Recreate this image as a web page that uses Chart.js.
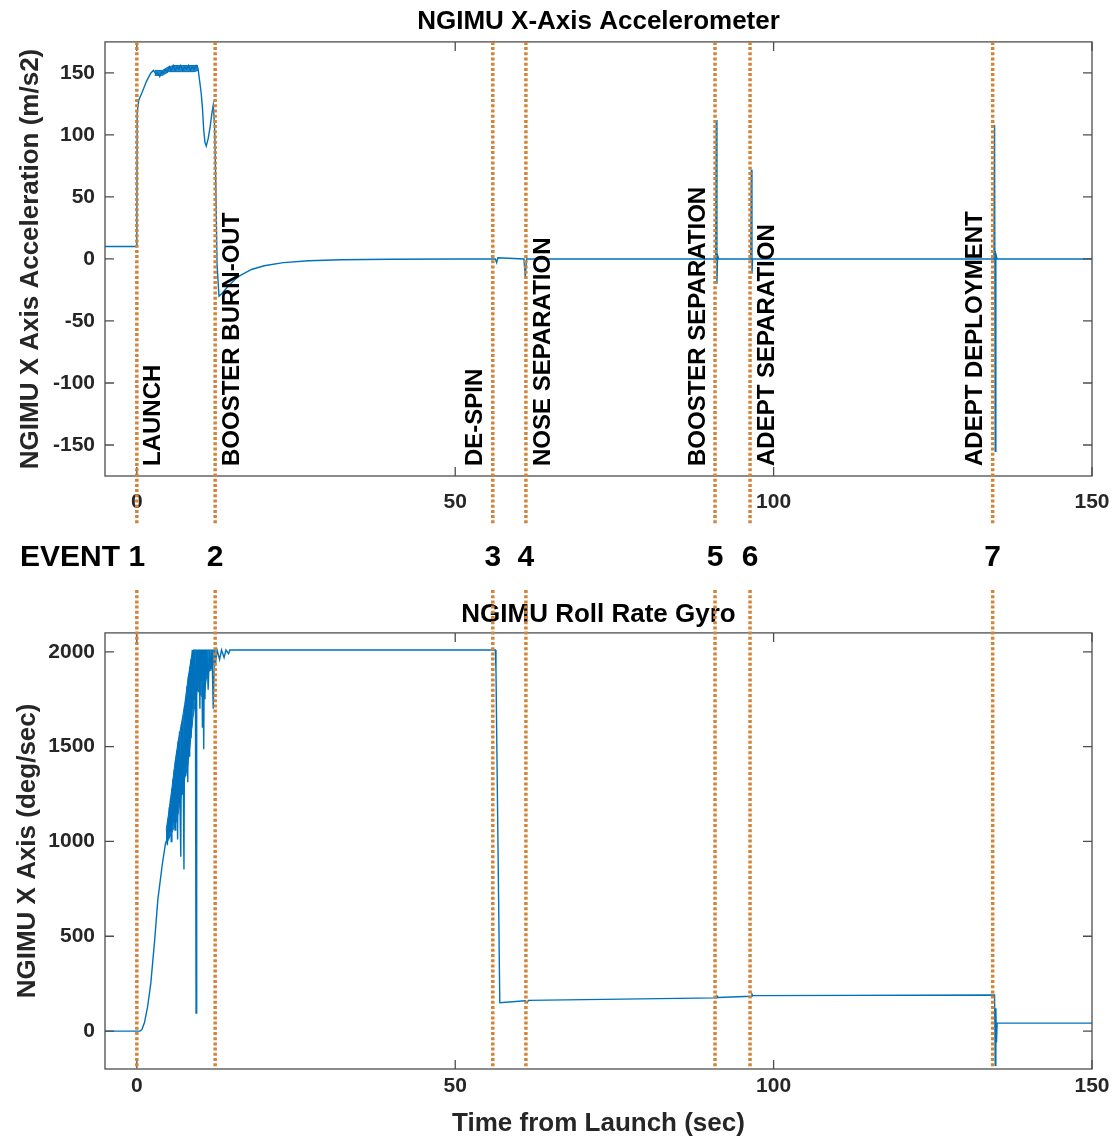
<!DOCTYPE html>
<html>
<head>
<meta charset="utf-8">
<script src="https://cdn.jsdelivr.net/npm/chart.js@4.4.1/dist/chart.umd.min.js"></script>
<style>
  body { margin: 0; background: #fff; }
  #wrap { position: relative; width: 1112px; height: 1140px; }
  canvas { position: absolute; left: 0; }
  #accel { top: 0; }
  #gyro { top: 590px; }
</style>
</head>
<body>
<div id="wrap">
  <canvas id="accel" width="1112" height="590"></canvas>
  <canvas id="gyro" width="1112" height="550"></canvas>
</div>
<script>
// events (sec from launch)
const eventTimes = [0, 12.3, 55.9, 61.1, 90.8, 96.3, 134.4];
const eventNumbers = ["1", "2", "3", "4", "5", "6", "7"];
const eventNames = ["LAUNCH", "BOOSTER BURN-OUT", "DE-SPIN", "NOSE SEPARATION",
  "BOOSTER SEPARATION", "ADEPT SEPARATION", "ADEPT DEPLOYMENT"];

const timeTicks = [0, 50, 100, 150];
const accelTicks = [-150, -100, -50, 0, 50, 100, 150];
const gyroTicks = [0, 500, 1000, 1500, 2000];

// accelerometer trace
const accelTime = [
  -5, 0, 0.05, 0.3, 0.8, 1.5, 2.2, 2.6, 3.0, 3.3,
  3.6, 3.9, 4.2, 4.5, 4.8, 5.1, 5.4, 5.7, 6.0, 6.3,
  6.6, 6.9, 7.2, 7.5, 7.8, 8.1, 8.4, 8.7, 9.0, 9.3,
  9.6, 9.8, 10.1, 10.3, 10.5, 10.7, 10.9, 11.2, 11.5, 11.8,
  12.0, 12.2, 12.4, 12.6, 12.9, 13.5, 14.5, 16, 18, 20,
  23, 27, 32, 40, 50, 56.3, 56.5, 56.7, 60.8, 61.0,
  61.2, 90.9, 91.0, 91.1, 91.2, 91.4, 96.4, 96.5, 96.6, 96.7,
  134.6, 134.7, 134.8, 134.9, 135.1, 150
];
const accelValue = [
  10, 10, 118, 128, 134, 143, 150, 152, 149, 150,
  147, 151, 150, 153, 151, 155, 152, 156, 152, 155,
  153, 156, 152, 155, 153, 156, 152, 155, 153, 156,
  154, 146, 134, 122, 104, 94, 91, 97, 106, 118,
  124, 108, 60, -5, -30, -27, -21, -14, -8.5, -5.5,
  -3, -1.5, -0.7, -0.2, 0, 0, -3, 1, 0, -15,
  0, 0, 112, -20, 3, 0, 0, 72, -12, 0,
  0, 108, -155, 4, 0, 0
];
// noisy band during boost (upper / lower envelope)
const accelBandTime = [2.8, 4.0, 5.0, 6.0, 7.0, 8.0, 9.0, 9.6];
const accelBandUpper = [152, 152, 155, 156, 156, 156, 156, 156];
const accelBandLower = [148, 148, 151, 151, 151, 151, 151, 152];

// roll rate gyro trace
const gyroTime = [
  -5, 0.5, 0.8, 1.2, 1.7, 2.2, 2.8, 3.3, 4.0, 4.5,
  4.6, 4.7, 4.8, 4.9, 5.0, 5.1, 5.2, 5.3, 5.4, 5.5,
  5.6, 5.7, 5.8, 5.9, 6.0, 6.1, 6.2, 6.3, 6.4, 6.5,
  6.6, 6.7, 6.8, 6.9, 7.0, 7.1, 7.2, 7.3, 7.4, 7.5,
  7.6, 7.7, 7.8, 7.9, 8.0, 8.1, 8.2, 8.3, 8.4, 8.5,
  8.6, 8.7, 8.8, 8.9, 9.0, 9.1, 9.2, 9.3, 9.4, 9.5,
  9.6, 9.7, 9.8, 9.9, 10.0, 10.1, 10.2, 10.3, 10.4, 10.5,
  10.6, 10.7, 10.8, 10.9, 11.0, 11.2, 11.4, 11.6, 11.8, 12.0,
  12.2, 12.4, 12.6, 13.0, 13.3, 13.7, 14.0, 14.4, 14.6, 56.3,
  56.4, 57.0, 61.0, 61.3, 61.5, 91.0, 91.1, 91.3, 96.5, 96.6,
  96.7, 134.7, 134.8, 134.9, 135.0, 135.1, 150
];
const gyroValue = [
  0, 0, 8, 45, 130, 254, 480, 693, 880, 990,
  1000, 1060, 980, 1120, 1020, 1180, 1050, 1230, 1000, 1280,
  1080, 1330, 1100, 1380, 1060, 1430, 1150, 1480, 1010, 1530,
  1200, 1580, 1150, 920, 1620, 1250, 1660, 1300, 852, 1720,
  1350, 1760, 1400, 1820, 1312, 1870, 1450, 1920, 1550, 1960,
  1600, 2010, 1700, 2010, 1750, 2010, 1850, 95, 2010, 1800,
  2010, 1900, 2010, 1700, 2010, 1850, 2010, 1600, 2010, 1487,
  2010, 1750, 2010, 1880, 2010, 1800, 2010, 1900, 2010, 1700,
  2010, 1950, 2010, 1960, 2010, 1970, 2010, 1990, 2010, 2010,
  1900, 150, 160, 150, 162, 175, 185, 177, 184, 195,
  187, 190, -180, 120, -60, 42, 42
];
// dense noise band while spinning up (upper / lower envelope)
const gyroBandTime = [4.6, 5.0, 5.5, 6.0, 6.5, 7.0, 7.5, 8.0, 8.5, 8.8, 9.5, 10.5, 11.0, 12.4];
const gyroBandUpper = [1060, 1150, 1280, 1420, 1530, 1620, 1720, 1850, 1960, 2010, 2010, 2010, 2010, 2010];
const gyroBandLower = [990, 1010, 1050, 1080, 1150, 1250, 1330, 1400, 1550, 1650, 1800, 1750, 1880, 1950];

const FONT = "'Liberation Sans', Arial, sans-serif";
const LINE_BLUE = "rgb(0,114,189)";
const BAND_BLUE = "rgba(0,114,189,0.85)";
const EVENT_ORANGE = "rgb(210,132,58)";
const AXIS_GRAY = "#4d4d4d";
const labelSide = [1, 1, -1, 1, -1, 1, -1];

function toPoints(xs, ys) {
  if (xs.length !== ys.length) console.error("length mismatch", xs.length, ys.length);
  return xs.map((x, i) => ({ x, y: ys[i] }));
}

function drawDotted(ctx, x, y0, y1) {
  ctx.save();
  ctx.strokeStyle = EVENT_ORANGE;
  ctx.lineWidth = 3.5;
  ctx.setLineDash([3, 2.2]);
  ctx.beginPath();
  ctx.moveTo(x, y0);
  ctx.lineTo(x, y1);
  ctx.stroke();
  ctx.restore();
}

// box with inward ticks, MATLAB style
const boxPlugin = {
  id: "box",
  afterDatasetsDraw(chart, args, opts) {
    const { ctx, chartArea: a, scales } = chart;
    ctx.save();
    ctx.strokeStyle = AXIS_GRAY;
    ctx.lineWidth = 1.3;
    ctx.strokeRect(a.left, a.top, a.right - a.left, a.bottom - a.top);
    ctx.beginPath();
    opts.xTicks.forEach((v) => {
      const px = scales.x.getPixelForValue(v);
      ctx.moveTo(px, a.bottom); ctx.lineTo(px, a.bottom - 9);
      ctx.moveTo(px, a.top); ctx.lineTo(px, a.top + 9);
    });
    opts.yTicks.forEach((v) => {
      const py = scales.y.getPixelForValue(v);
      ctx.moveTo(a.left, py); ctx.lineTo(a.left + 9, py);
      ctx.moveTo(a.right, py); ctx.lineTo(a.right - 9, py);
    });
    ctx.stroke();
    ctx.restore();
  }
};

const eventPlugin = {
  id: "events",
  afterDraw(chart, args, opts) {
    const { ctx, chartArea: a, scales } = chart;
    eventTimes.forEach((t) => {
      const px = scales.x.getPixelForValue(t);
      if (opts.top) {
        drawDotted(ctx, px, a.top, 525);
      } else {
        drawDotted(ctx, px, 0, a.bottom);
      }
    });
    if (!opts.top) return;
    ctx.save();
    ctx.fillStyle = "#000";
    ctx.font = "bold 24px " + FONT;
    ctx.textAlign = "left";
    ctx.textBaseline = "middle";
    eventTimes.forEach((t, i) => {
      const px = scales.x.getPixelForValue(t) + labelSide[i] * 17;
      ctx.save();
      ctx.translate(px, a.bottom - 10);
      ctx.rotate(-Math.PI / 2);
      ctx.fillText(eventNames[i], 0, 0);
      ctx.restore();
    });
    ctx.font = "bold 30px " + FONT;
    ctx.fillText("EVENT", 20, 558);
    ctx.textAlign = "center";
    eventTimes.forEach((t, i) => {
      ctx.fillText(eventNumbers[i], scales.x.getPixelForValue(t), 558);
    });
    ctx.restore();
  }
};

function makeChart(id, cfg) {
  const lineStyle = { borderColor: LINE_BLUE, borderWidth: 1.4, pointRadius: 0, tension: 0 };
  return new Chart(document.getElementById(id), {
    type: "line",
    data: {
      datasets: [
        { ...lineStyle, borderWidth: 1, data: toPoints(cfg.bandX, cfg.bandHi), fill: false },
        { ...lineStyle, borderWidth: 1, data: toPoints(cfg.bandX, cfg.bandLo), fill: "-1", backgroundColor: BAND_BLUE },
        { ...lineStyle, data: toPoints(cfg.xs, cfg.ys), fill: false }
      ]
    },
    options: {
      responsive: false,
      animation: false,
      events: [],
      layout: { padding: { left: 0, right: 20, top: 0, bottom: 0 } },
      plugins: {
        legend: { display: false },
        tooltip: { enabled: false },
        title: {
          display: true,
          fullSize: false,
          text: cfg.title,
          color: "#000",
          font: { family: FONT, size: 26, weight: "bold", lineHeight: 1.15 },
          padding: cfg.titlePad
        },
        box: { xTicks: timeTicks, yTicks: cfg.yTicks },
        events: { top: cfg.top }
      },
      scales: {
        x: {
          type: "linear",
          min: -5,
          max: 150,
          afterFit: (s) => { s.height = cfg.xHeight; s.paddingLeft = 0; s.paddingRight = 0; },
          afterBuildTicks: (s) => { s.ticks = timeTicks.map((v) => ({ value: v })); },
          grid: { display: false, drawTicks: false },
          border: { display: false },
          ticks: {
            color: "#262626",
            font: { family: FONT, size: 21, weight: "bold" },
            padding: cfg.xPad,
            maxRotation: 0,
            callback: (v) => String(v)
          },
          title: cfg.xTitle ? {
            display: true,
            text: cfg.xTitle,
            color: "#262626",
            font: { family: FONT, size: 26, weight: "bold", lineHeight: 1.2 },
            padding: { top: 0, bottom: 1 }
          } : { display: false }
        },
        y: {
          min: cfg.yMin,
          max: cfg.yMax,
          afterFit: (s) => { s.width = 105; s.paddingTop = 0; s.paddingBottom = 0; },
          afterBuildTicks: (s) => { s.ticks = cfg.yTicks.map((v) => ({ value: v })); },
          grid: { display: false, drawTicks: false },
          border: { display: false },
          ticks: {
            color: "#262626",
            font: { family: FONT, size: 21, weight: "bold" },
            padding: 10,
            callback: (v) => String(v)
          },
          title: {
            display: true,
            text: cfg.yTitle,
            color: "#262626",
            font: { family: FONT, size: 26, weight: "bold", lineHeight: 1.2 },
            padding: { top: cfg.yTitlePad, bottom: 0 }
          }
        }
      }
    },
    plugins: [boxPlugin, eventPlugin]
  });
}

makeChart("accel", {
  xs: accelTime, ys: accelValue,
  bandX: accelBandTime, bandHi: accelBandUpper, bandLo: accelBandLower,
  title: "NGIMU X-Axis Accelerometer",
  titlePad: { top: 7, bottom: 5 },
  yTitle: "NGIMU X Axis Acceleration (m/s2)",
  yTitlePad: 15,
  yMin: -175, yMax: 175, yTicks: accelTicks,
  xHeight: 114, xPad: 14, top: true
});

makeChart("gyro", {
  xs: gyroTime, ys: gyroValue,
  bandX: gyroBandTime, bandHi: gyroBandUpper, bandLo: gyroBandLower,
  title: "NGIMU Roll Rate Gyro",
  titlePad: { top: 10, bottom: 3 },
  yTitle: "NGIMU X Axis (deg/sec)",
  yTitlePad: 12,
  yMin: -200, yMax: 2100, yTicks: gyroTicks,
  xHeight: 71, xPad: 5, xTitle: "Time from Launch (sec)", top: false
});
</script>
</body>
</html>
